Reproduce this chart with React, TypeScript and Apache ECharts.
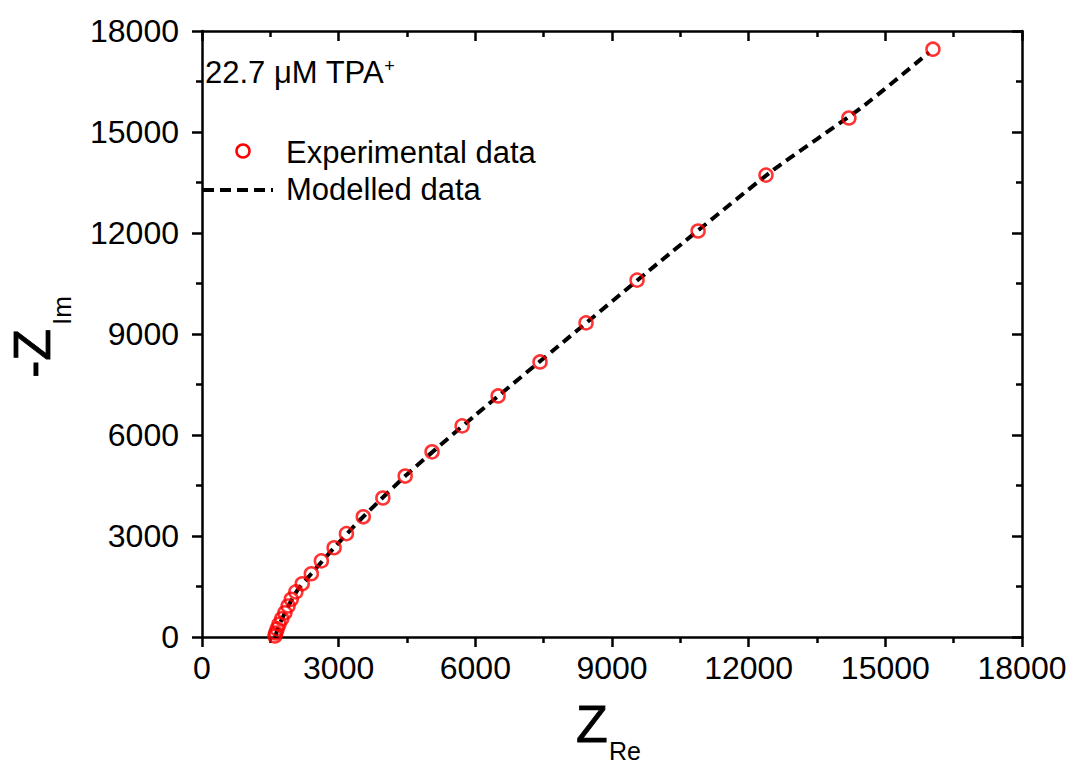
import React, { useEffect, useRef } from "react";
import * as echarts from "echarts";

const expX = [1600, 1620, 1650, 1690, 1750, 1820, 1890, 1960, 2060, 2200, 2400, 2620, 2900, 3170, 3540, 3970, 4460, 5050, 5710, 6500, 7420, 8430, 9550, 10890, 12380, 14200, 16045];
const expY = [30, 120, 240, 380, 540, 720, 920, 1120, 1340, 1580, 1880, 2260, 2650, 3070, 3570, 4130, 4780, 5500, 6270, 7160, 8170, 9330, 10600, 12060, 13720, 15415, 17460];

const modX = [1610, 1650, 1750, 1900, 2100, 2400, 2900, 3500, 4500, 6000, 8000, 10000, 12500, 14500, 15960];
const modY = [0, 200, 520, 930, 1400, 1880, 2650, 3520, 4830, 6590, 8840, 11090, 13830, 15750, 17365];

const axisMin = 0;
const axisMax = 18000;
const axisStep = 3000;

const FONT = "'Liberation Sans', Arial, sans-serif";

export default function App() {
  const ref = useRef<HTMLDivElement>(null);
  useEffect(() => {
    if (!ref.current) return;
    const chart = echarts.init(ref.current, null, { renderer: "svg" });
    const lineStyle = { color: "#000", width: 2.5 };
    const baseAxis = {
      type: "value" as const,
      min: axisMin,
      max: axisMax,
      interval: axisStep,
      splitLine: { show: false },
      axisLine: { show: true, onZero: false, lineStyle },
      minorTick: { show: true, splitNumber: 2, length: 6, lineStyle: { color: "#000", width: 2.5 } },
      minorSplitLine: { show: false },
    };
    const fmt = (v: number) => String(v);
    const option: any = {
      animation: false,
      backgroundColor: "#fff",
      grid: { left: 202, right: 52, top: 31, bottom: 128, containLabel: false },
      xAxis: [
        {
          ...baseAxis,
          position: "bottom",
          axisTick: { show: true, inside: false, length: 10, lineStyle },
          axisLabel: { fontSize: 32, color: "#000", fontFamily: FONT, margin: 15, formatter: fmt },
        },
        {
          ...baseAxis,
          position: "top",
          axisTick: { show: true, inside: true, length: 10, lineStyle },
          axisLabel: { show: false },
        },
      ],
      yAxis: [
        {
          ...baseAxis,
          position: "left",
          axisTick: { show: true, inside: false, length: 10, lineStyle },
          axisLabel: { fontSize: 32, color: "#000", fontFamily: FONT, margin: 23, formatter: fmt },
        },
        {
          ...baseAxis,
          position: "right",
          axisTick: { show: true, inside: true, length: 10, lineStyle },
          axisLabel: { show: false },
        },
      ],
      series: [
        {
          name: "Modelled data",
          type: "line",
          data: modX.map((x, i) => [x, modY[i]]),
          showSymbol: false,
          smooth: 0.2,
          lineStyle: { color: "#000", width: 4, type: [10, 6] },
          z: 3,
        },
        {
          name: "Experimental data",
          type: "scatter",
          data: expX.map((x, i) => [x, expY[i]]),
          symbol: "circle",
          symbolSize: 13,
          clip: false,
          itemStyle: { color: "rgba(255,255,255,0)", borderColor: "#f00", borderWidth: 2.5 },
          z: 4,
        },
      ],
      graphic: [
        {
          type: "text",
          x: 205,
          y: 72,
          style: {
            text: "{a|22.7 μM TPA}{s|+}",
            font: `31px ${FONT}`,
            fill: "#000",
            align: "left",
            verticalAlign: "middle",
            rich: {
              a: { fontSize: 31, fontFamily: FONT, fill: "#000", verticalAlign: "middle" },
              s: { fontSize: 18, fontFamily: FONT, fill: "#000", verticalAlign: "top" },
            },
          },
        },
        {
          type: "circle",
          shape: { cx: 243, cy: 151, r: 6.5 },
          style: { fill: "none", stroke: "#f00", lineWidth: 2.5 },
        },
        {
          type: "text",
          x: 286,
          y: 152,
          style: { text: "Experimental data", font: `31px ${FONT}`, fill: "#000", align: "left", verticalAlign: "middle" },
        },
        {
          type: "line",
          shape: { x1: 203, y1: 190, x2: 273, y2: 190 },
          style: { stroke: "#000", lineWidth: 4, lineDash: [11, 6] },
        },
        {
          type: "text",
          x: 286,
          y: 189,
          style: { text: "Modelled data", font: `31px ${FONT}`, fill: "#000", align: "left", verticalAlign: "middle" },
        },
        {
          type: "text",
          x: 576,
          y: 724,
          style: { text: "Z", font: `52px ${FONT}`, fill: "#000", align: "left", verticalAlign: "middle", stroke: "#000", lineWidth: 0.8 },
        },
        {
          type: "text",
          x: 609,
          y: 751,
          style: { text: "Re", font: `25px ${FONT}`, fill: "#000", align: "left", verticalAlign: "middle" },
        },
        {
          type: "text",
          x: 32,
          y: 378,
          rotation: Math.PI / 2,
          style: { text: "-Z", font: `52px ${FONT}`, fill: "#000", align: "left", verticalAlign: "middle", stroke: "#000", lineWidth: 0.8 },
        },
        {
          type: "text",
          x: 62,
          y: 325,
          rotation: Math.PI / 2,
          style: { text: "Im", font: `26px ${FONT}`, fill: "#000", align: "left", verticalAlign: "middle" },
        },
      ],
    };
    chart.setOption(option);
    return () => chart.dispose();
  }, []);
  return (
    <div
      ref={ref}
      style={{ position: "absolute", left: 0, top: 0, width: 1074, height: 765, background: "#fff" }}
    />
  );
}
